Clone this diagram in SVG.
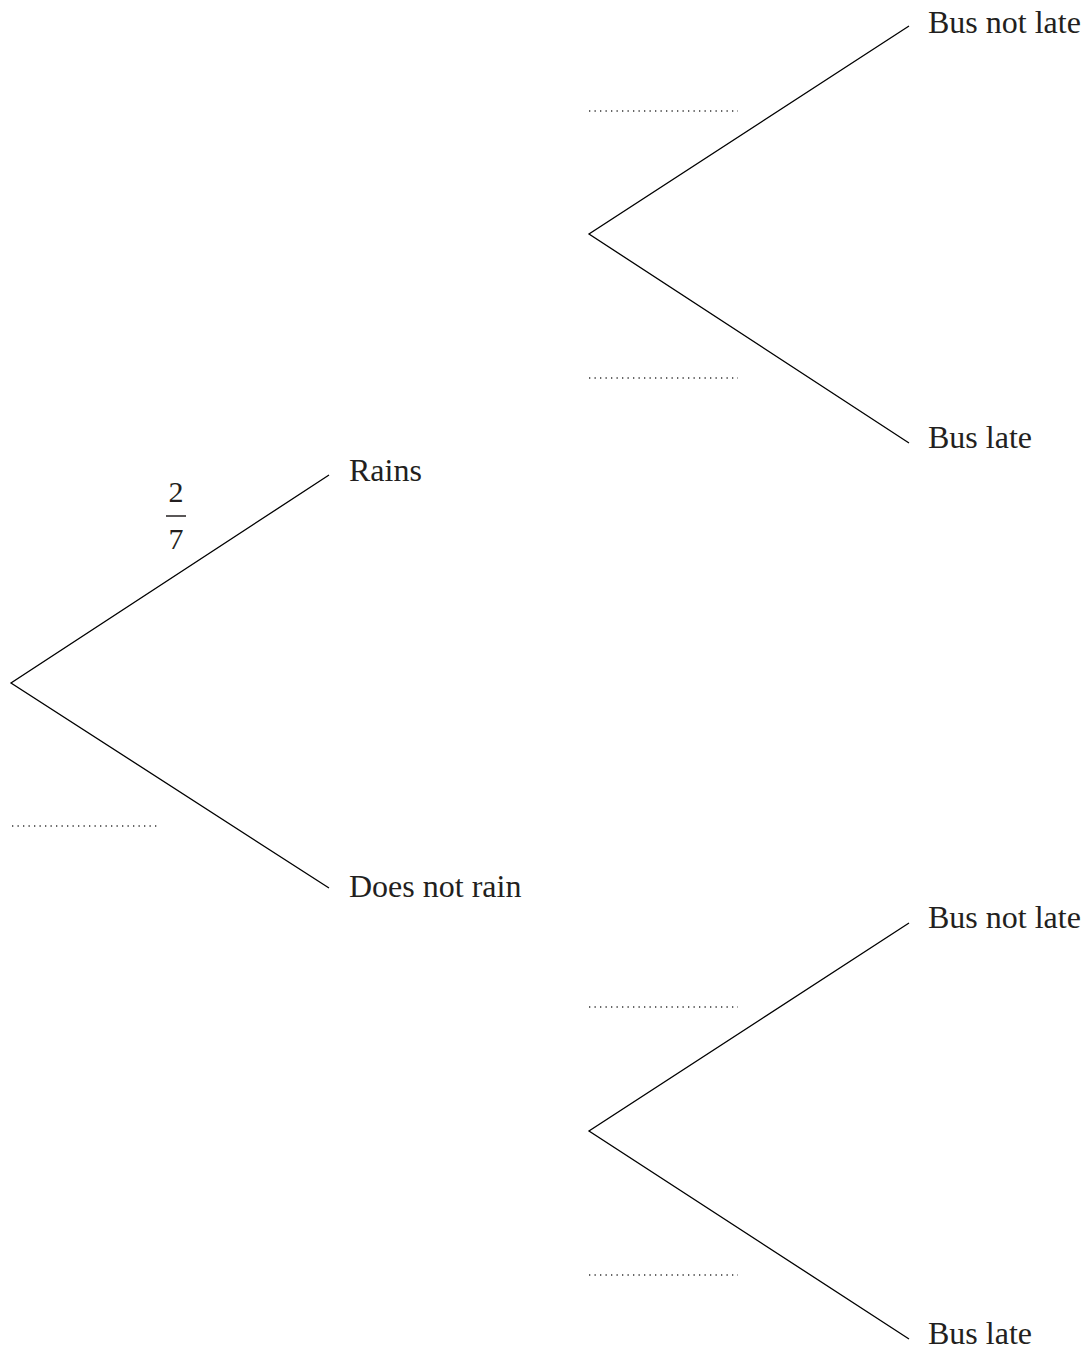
<svg xmlns="http://www.w3.org/2000/svg" width="1088" height="1351" viewBox="0 0 1088 1351">
<style>
.br{stroke:#000;stroke-width:1.3;fill:none}
.dot{stroke:#333;stroke-width:1.3;stroke-dasharray:1.3 4.2;fill:none}
text{font-family:"Liberation Serif","Times New Roman",serif;font-size:32px;fill:#231f20}
.fr{font-size:30px}
</style>
<rect width="1088" height="1351" fill="#fff"/>
<g id="connectors">
<polyline class="br" points="329,475 11,683 329,888"/>
<polyline class="br" points="909,26 589,234 909,443"/>
<polyline class="br" points="909,923 589,1131 909,1339"/>
</g>
<g id="blanks">
<line class="dot" x1="589" y1="111" x2="738" y2="111"/>
<line class="dot" x1="589" y1="378" x2="738" y2="378"/>
<line class="dot" x1="12" y1="826" x2="160" y2="826"/>
<line class="dot" x1="589" y1="1007" x2="738" y2="1007"/>
<line class="dot" x1="589" y1="1275" x2="738" y2="1275"/>
</g>
<g id="prob-rains">
<text class="fr" x="176" y="502" text-anchor="middle">2</text>
<line x1="166" y1="516" x2="186" y2="516" stroke="#231f20" stroke-width="1.5"/>
<text class="fr" x="176" y="549" text-anchor="middle">7</text>
</g>
<g id="node-rains"><text x="349" y="481">Rains</text></g>
<g id="node-does-not-rain"><text x="349" y="897">Does not rain</text></g>
<g id="node-bus-not-late-1"><text x="928" y="33">Bus not late</text></g>
<g id="node-bus-late-1"><text x="928" y="448">Bus late</text></g>
<g id="node-bus-not-late-2"><text x="928" y="928">Bus not late</text></g>
<g id="node-bus-late-2"><text x="928" y="1344">Bus late</text></g>
</svg>
